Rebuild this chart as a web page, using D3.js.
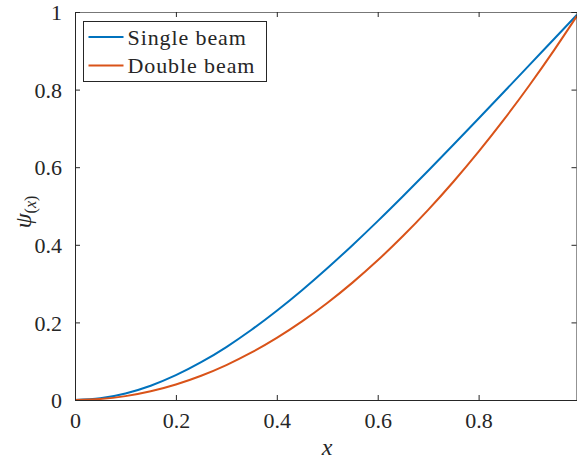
<!DOCTYPE html>
<html>
<head>
<meta charset="utf-8">
<script src="https://cdn.jsdelivr.net/npm/d3@7"></script>
<style>
  body { margin: 0; background: #fff; }
  svg { display: block; }
  text { font-family: "Liberation Serif", "DejaVu Serif", serif; fill: #262626; }
</style>
</head>
<body>
<svg width="577" height="460"></svg>
<script>
// values
var xs = [0, 0.05, 0.1, 0.15, 0.2, 0.25, 0.3, 0.35, 0.4, 0.45, 0.5,
          0.55, 0.6, 0.65, 0.7, 0.75, 0.8, 0.85, 0.9, 0.95, 0.995];
var singleBeam = [0, 0.0043, 0.0168, 0.0368, 0.0639, 0.0973, 0.1365, 0.1809, 0.2299, 0.2829, 0.3395,
                  0.3991, 0.4611, 0.5252, 0.5909, 0.6577, 0.7255, 0.7938, 0.8624, 0.9312, 0.9931];
var doubleBeam = [0, 0.0025, 0.0100, 0.0225, 0.0400, 0.0625, 0.0900, 0.1225, 0.1600, 0.2025, 0.2500,
                  0.3025, 0.3600, 0.4225, 0.4900, 0.5625, 0.6400, 0.7225, 0.8100, 0.9025, 0.9900];
var seriesNames = ["Single beam", "Double beam"];
var seriesColors = ["#0072BD", "#D95319"];
var xTicks = [0, 0.2, 0.4, 0.6, 0.8];
var yTicks = [0, 0.2, 0.4, 0.6, 0.8, 1];

var svg = d3.select("svg");
var mLeft = 75, mRight = 577, mTop = 12, mBottom = 400;

var x = d3.scaleLinear().domain([0, 0.995]).range([mLeft, mRight]);
var y = d3.scaleLinear().domain([0, 1]).range([mBottom, mTop]);

var series = [singleBeam, doubleBeam];

// curves
var line = d3.line()
  .x((d, i) => x(xs[i]))
  .y(d => y(d))
  .curve(d3.curveMonotoneX);

svg.append("g").selectAll("path")
  .data(series)
  .enter()
  .append("path")
  .attr("d", d => line(d))
  .attr("fill", "none")
  .attr("stroke", (d, i) => seriesColors[i])
  .attr("stroke-width", 2);

// axes, ticks inward on all sides
var fmt = d => d === 0 ? "0" : d === 1 ? "1" : d3.format(".1f")(d);

var xAxis = svg.append("g")
  .attr("transform", "translate(0," + mBottom + ")")
  .call(d3.axisBottom(x).tickValues(xTicks).tickSize(-5).tickPadding(12).tickFormat(fmt));
var xAxisTop = svg.append("g")
  .attr("transform", "translate(0," + mTop + ")")
  .call(d3.axisTop(x).tickValues(xTicks).tickSize(-5).tickFormat(""));
var yAxis = svg.append("g")
  .attr("transform", "translate(" + mLeft + ",0)")
  .call(d3.axisLeft(y).tickValues(yTicks).tickSize(-5).tickPadding(13).tickFormat(fmt));
var yAxisRight = svg.append("g")
  .attr("transform", "translate(" + (mRight - 0.5) + ",0)")
  .call(d3.axisRight(y).tickValues(yTicks).tickSize(-5).tickFormat(""));

[xAxis, xAxisTop, yAxis, yAxisRight].forEach(function(a) {
  a.select(".domain").attr("stroke", "#262626").attr("stroke-width", 1);
  a.selectAll(".tick line").attr("stroke", "#262626");
  a.selectAll("text")
    .style("font-family", "'Liberation Serif', 'DejaVu Serif', serif")
    .style("font-size", "22px")
    .attr("fill", "#262626");
});
xAxis.selectAll(".tick text").attr("dy", "0.71em");
yAxis.selectAll(".tick text").attr("dy", "0.35em");
xAxisTop.select(".domain").attr("stroke", "#777");

// axis labels
svg.append("text")
  .attr("x", 327)
  .attr("y", 455)
  .attr("text-anchor", "middle")
  .style("font-size", "24px")
  .style("font-style", "italic")
  .text("x");

var ylab = svg.append("text")
  .attr("transform", "translate(31,212) rotate(-90)")
  .attr("text-anchor", "middle")
  .style("font-size", "24px");
ylab.append("tspan").style("font-style", "italic").text("ψ");
ylab.append("tspan").attr("dy", 5).style("font-size", "16px").text("(");
ylab.append("tspan").style("font-size", "16px").style("font-style", "italic").text("x");
ylab.append("tspan").style("font-size", "16px").text(")");

// legend
var legend = svg.append("g").attr("transform", "translate(83.5,21.5)");
legend.append("rect")
  .attr("width", 183)
  .attr("height", 60)
  .attr("fill", "#fff")
  .attr("stroke", "#262626")
  .attr("stroke-width", 1);

var entry = legend.selectAll("g.entry")
  .data(seriesNames)
  .enter()
  .append("g")
  .attr("class", "entry")
  .attr("transform", (d, i) => "translate(0," + (15.5 + i * 28.5) + ")");

entry.append("line")
  .attr("x1", 5).attr("x2", 40)
  .attr("stroke", (d, i) => seriesColors[i])
  .attr("stroke-width", 2);

entry.append("text")
  .attr("x", 44)
  .attr("dy", "0.35em")
  .style("font-size", "22px")
  .style("letter-spacing", "0.9px")
  .text(d => d);
</script>
</body>
</html>
